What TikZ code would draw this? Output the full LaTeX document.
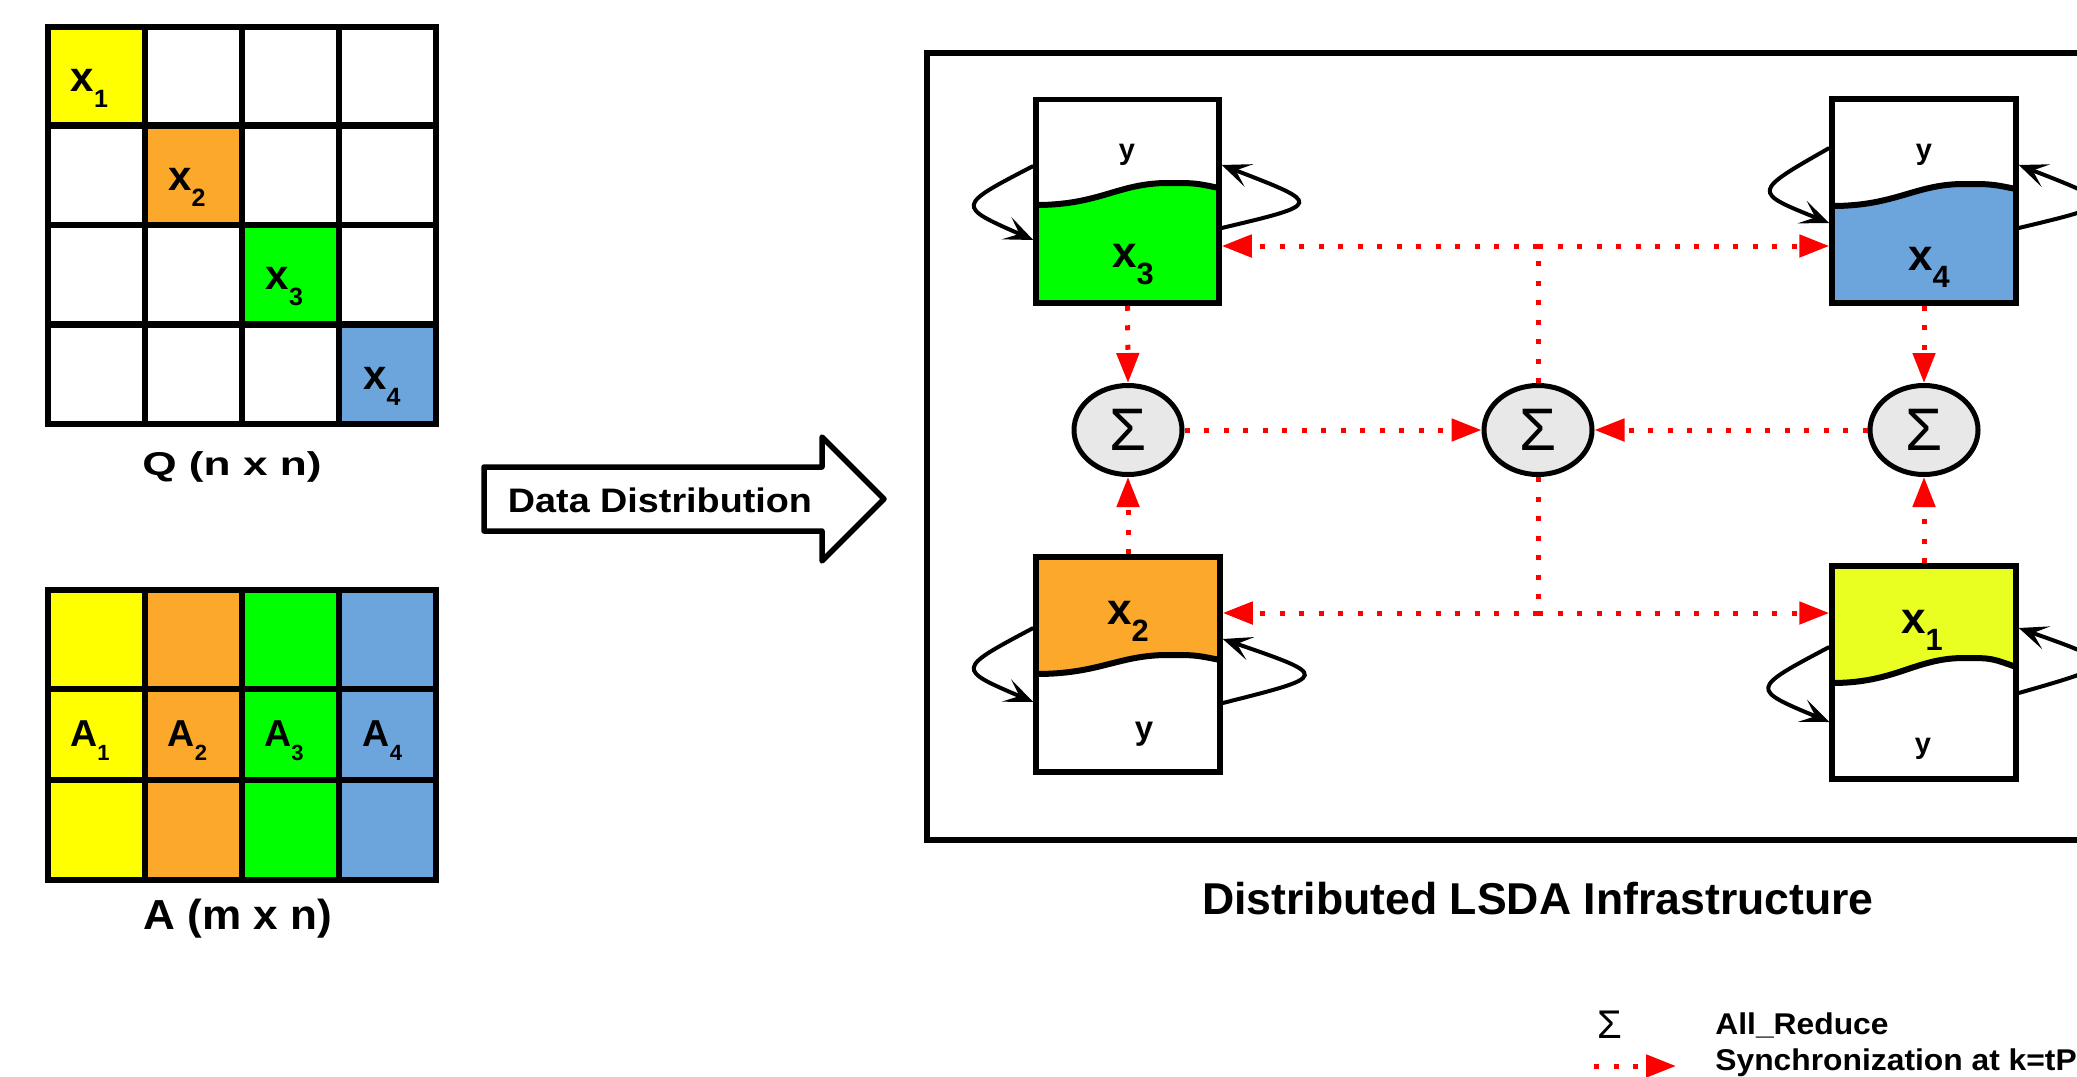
\documentclass[tikz,border=0pt]{standalone}
\usepackage{fontspec}
\setmainfont{Liberation Sans}
\usepackage{graphicx}
\usetikzlibrary{arrows.meta,shapes.geometric}
\definecolor{cyel}{HTML}{FFFF00}
\definecolor{cora}{HTML}{FBA82B}
\definecolor{cgrn}{HTML}{00FF00}
\definecolor{cblu}{HTML}{6CA4DC}
\definecolor{cyb}{HTML}{E9FF22}
\definecolor{csig}{HTML}{E8E8E8}
\newcommand\fs[1]{\fontsize{#1}{#1}\selectfont}
\newcommand\lab[5]{{\fs{#1}#2}\raisebox{#5}{\fs{#3}#4}}
\begin{document}
\begin{tikzpicture}[x=0.5pt,y=-0.5pt,
  gridline/.style={line width=3.3pt, line cap=rect},
  boxnode/.style={draw, rectangle, line width=2.75pt, inner sep=0pt},
  wave/.style={line width=3pt},
  signode/.style={ellipse, draw, line width=2.5pt, fill=csig, minimum width=54pt, minimum height=44.5pt, inner sep=0pt, font=\fs{30pt}},
  syncline/.style={red, line width=2.5pt, dash pattern=on 2.5pt off 7.25pt},
  sync/.style={syncline, -{Triangle[length=15pt,width=11pt]}},
  loopar/.style={line width=2pt, -{Stealth[length=14.5pt,width=12pt,inset=7pt]}},
  lbl/.style={font=\bfseries, inner sep=0pt}]
\useasboundingbox (0,0) rectangle (2077,1076);
\clip (0,0) rectangle (2077,1076);
\fill[white] (0,0) rectangle (2077,1076);

% ---------- Q matrix ----------
\fill[cyel] (48,27) rectangle (145,125.5);
\fill[cora] (145,125.5) rectangle (242,225);
\fill[cgrn] (242,225) rectangle (339,324.5);
\fill[cblu] (339,324.5) rectangle (436,424);
\foreach \x in {48,145,242,339,436} \draw[gridline] (\x,27) -- (\x,424);
\foreach \y in {27,125.5,225,324.5,424} \draw[gridline] (48,\y) -- (436,\y);
\node[lbl] (q1) at (89.5,88) {\lab{21pt}{x}{12.5pt}{1}{-8pt}};
\node[lbl] (q2) at (187,187.5) {\lab{21pt}{x}{12.5pt}{2}{-8pt}};
\node[lbl] (q3) at (284.5,287) {\lab{21pt}{x}{12.5pt}{3}{-8pt}};
\node[lbl] (q4) at (382,386) {\lab{21pt}{x}{12.5pt}{4}{-8pt}};
\node[lbl] (qlab) at (232,467) {\fs{16.5pt}\scalebox{1.34}[1]{Q (n x n)}};

% ---------- A matrix ----------
\fill[cyel] (48,590) rectangle (145,880);
\fill[cora] (145,590) rectangle (242,880);
\fill[cgrn] (242,590) rectangle (339,880);
\fill[cblu] (339,590) rectangle (436,880);
\foreach \x in {48,145,242,339,436} \draw[gridline] (\x,590) -- (\x,880);
\foreach \y in {590,689,780,880} \draw[gridline] (48,\y) -- (436,\y);
\node[lbl] (a1) at (90,741) {\lab{18.75pt}{A}{11pt}{1}{-7pt}};
\node[lbl] (a2) at (187.5,741) {\lab{18.75pt}{A}{11pt}{2}{-7pt}};
\node[lbl] (a3) at (284,741) {\lab{18.75pt}{A}{11pt}{3}{-7pt}};
\node[lbl] (a4) at (382.5,741) {\lab{18.75pt}{A}{11pt}{4}{-7pt}};
\node[lbl] (alab) at (238,919) {\fs{21pt}\scalebox{1.05}[1]{A (m x n)}};

% ---------- Data distribution arrow ----------
\draw[line width=2.75pt, line join=round] (484,467) -- (822,467) -- (822,437) -- (884,499) -- (822,561) -- (822,531) -- (484,531) -- cycle;
\node[lbl] (ddt) at (660,500) {\fs{17pt}\scalebox{1.11}[1]{Data Distribution}};

% ---------- infrastructure frame ----------
\draw[line width=3pt] (927,53) rectangle (2300,840);
\node[lbl] (title) at (1538,899) {\fs{22.3pt}Distributed LSDA Infrastructure};

% ---------- worker boxes ----------
% b3 (x3, green bottom)
\fill[cgrn] (1036,205) .. controls (1100,205) and (1118,183) .. (1168,183) .. controls (1195,183) .. (1219,188) -- (1219,303) -- (1036,303) -- cycle;
\draw[wave] (1036,205) .. controls (1100,205) and (1118,183) .. (1168,183) .. controls (1195,183) .. (1219,188);
\node[boxnode, minimum width=91.5pt, minimum height=101.75pt] (b3) at (1127.5,201.25) {};
\node[lbl] (b3y) at (1127,155) {\fs{14.5pt}y};
\node[lbl] (b3x) at (1133,265) {\lab{22pt}{x}{15.4pt}{3}{-8.5pt}};

% b4 (x4, blue bottom)
\fill[cblu] (1832,206) .. controls (1896,206) and (1915,184) .. (1964,184) .. controls (1991,184) .. (2016,189) -- (2016,303) -- (1832,303) -- cycle;
\draw[wave] (1832,206) .. controls (1896,206) and (1915,184) .. (1964,184) .. controls (1991,184) .. (2016,189);
\node[boxnode, minimum width=92pt, minimum height=102pt] (b4) at (1924,201) {};
\node[lbl] (b4y) at (1924,155) {\fs{14.5pt}y};
\node[lbl] (b4x) at (1929,267) {\lab{22pt}{x}{15.4pt}{4}{-8.5pt}};

% b2 (x2, orange top)
\fill[cora] (1036,557) -- (1220,557) -- (1220,660) .. controls (1195,655) .. (1168,655) .. controls (1118,655) and (1100,674) .. (1036,674) -- cycle;
\draw[wave] (1220,660) .. controls (1195,655) .. (1168,655) .. controls (1118,655) and (1100,674) .. (1036,674);
\node[boxnode, minimum width=92pt, minimum height=107.5pt] (b2) at (1128,664.5) {};
\node[lbl] (b2x) at (1128,621) {\lab{22pt}{x}{15.4pt}{2}{-8.5pt}};
\node[lbl] (b2y) at (1144,734) {\fs{16.5pt}y};

% b1 (x1, yellow top)
\fill[cyb] (1832,566) -- (2016,566) -- (2016,667) .. controls (1991,658) .. (1964,658) .. controls (1915,658) and (1896,683) .. (1832,683) -- cycle;
\draw[wave] (2016,667) .. controls (1991,658) .. (1964,658) .. controls (1915,658) and (1896,683) .. (1832,683);
\node[boxnode, minimum width=92pt, minimum height=106.5pt] (b1) at (1924,672.5) {};
\node[lbl] (b1x) at (1922,630) {\lab{22pt}{x}{15.4pt}{1}{-8.5pt}};
\node[lbl] (b1y) at (1923,749) {\fs{14.5pt}y};

% ---------- self loops ----------
\draw[loopar] (b3.west |- 0,166) .. controls (956,206) and (956,206) .. (b3.west |- 0,240);
\draw[loopar] (b3.east |- 0,228) .. controls (1323,204) and (1323,204) .. (b3.east |- 0,165);
\draw[loopar] (b4.west |- 0,148) .. controls (1752,192) and (1752,192) .. (b4.west |- 0,223);
\draw[loopar] (b4.east |- 0,228) .. controls (2119,204) and (2119,204) .. (b4.east |- 0,165);
\draw[loopar] (b2.west |- 0,628) .. controls (956,669) and (956,669) .. (b2.west |- 0,702);
\draw[loopar] (b2.east |- 0,703) .. controls (1330,676) and (1330,676) .. (b2.east |- 0,639);
\draw[loopar] (b1.west |- 0,647) .. controls (1750,689) and (1750,689) .. (b1.west |- 0,722);
\draw[loopar] (b1.east |- 0,693) .. controls (2120,664) and (2120,664) .. (b1.east |- 0,628);

% ---------- all-reduce nodes ----------
\node[signode] (s1) at (1128,430) {\raisebox{-2.5pt}{Σ}};
\node[signode] (s2) at (1538,430) {\raisebox{-2.5pt}{Σ}};
\node[signode] (s3) at (1924,430) {\raisebox{-2.5pt}{Σ}};

% ---------- synchronization connectors ----------
\draw[sync] (b3.south) -- (s1.north);
\draw[sync] (b2.north) -- (s1.south);
\draw[sync] (b4.south) -- (s3.north);
\draw[sync] (b1.north) -- (s3.south);
\draw[sync] (s1.east) -- (s2.west);
\draw[sync] (s3.west) -- (s2.east);
\coordinate (jt) at (1538,246);
\coordinate (jb) at (1538,613);
\draw[syncline] (s2.north) -- (jt);
\draw[sync] (jt) -- (b3.east |- jt);
\draw[sync] (jt) -- (b4.west |- jt);
\draw[syncline] (s2.south) -- (jb);
\draw[sync] (jb) -- (b2.east |- jb);
\draw[sync] (jb) -- (b1.west |- jb);

% ---------- legend ----------
\node[inner sep=0pt] (lgs) at (1610,1025) {\fs{20pt}Σ};
\node[lbl, anchor=base west] (lg1) at (1715,1034) {\fs{15pt}\scalebox{1.06}[1]{All\_Reduce}};
\coordinate (lgA) at (1594,1066);
\coordinate (lgB) at (1676,1066);
\draw[sync] (lgA) -- (lgB);
\node[lbl, anchor=base west] (lg2) at (1715,1070) {\fs{15pt}\scalebox{1.06}[1]{Synchronization at k=tP}};
\end{tikzpicture}
\end{document}
